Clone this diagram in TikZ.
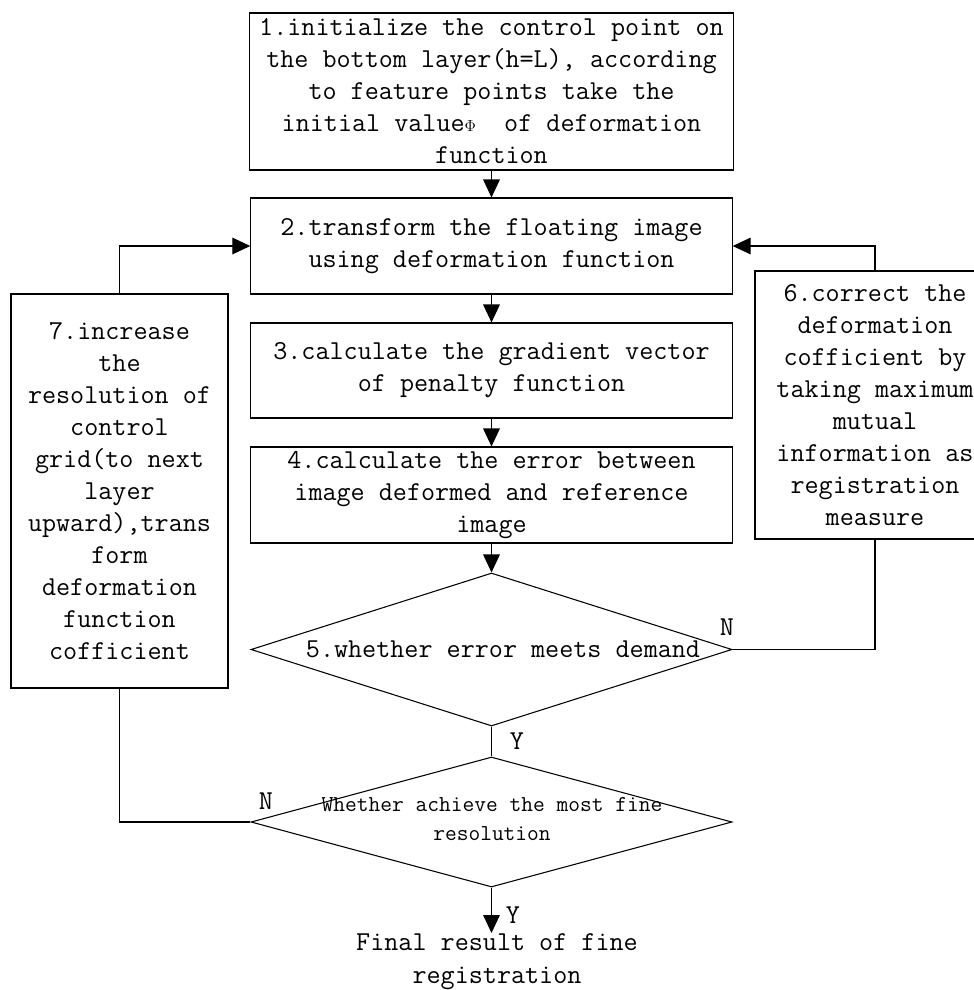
\documentclass[tikz,border=0pt]{standalone}
\usepackage{fontspec}
\usetikzlibrary{arrows.meta,shapes.geometric}
\newcommand\flowmono{\ttfamily}

\begin{document}
\begin{tikzpicture}[x=0.75pt, y=-0.75pt, line width=0.8pt,
		stepbox/.style={draw, inner sep=0pt, align=center, font=\flowmono\fontsize{20.5}{24}\selectfont},
		decision/.style={draw, diamond, inner sep=0pt},
		flow/.style={-{Triangle[length=13.5pt, width=12.5pt]}},
		tag/.style={inner sep=0pt, font=\flowmono\fontsize{20.5}{24}\selectfont}]
		\useasboundingbox (0,0) rectangle (974,990);
		
		%main column
		\node[stepbox, minimum width=363pt, minimum height=117.75pt] (init) at (491.5,91.5)
			{1.initialize the control point on\\the bottom layer(h=L), according\\to feature points take the\\initial value{\fontsize{13}{13}\selectfont$\Phi$}~~of deformation\\function};
		\node[stepbox, minimum width=361pt, minimum height=72pt] (warp) at (491.5,246)
			{2.transform the floating image\\using deformation function};
		\node[stepbox, minimum width=361pt, minimum height=71.25pt] (grad) at (491.5,370.5)
			{3.calculate the gradient vector\\of penalty function};
		\node[stepbox, minimum width=361pt, minimum height=72pt] (err) at (491.5,495)
			{4.calculate the error between\\image deformed and reference\\image};
		
		%decisions
		\node[decision, minimum width=360.75pt, minimum height=114.75pt] (meet) at (491.5,649.5) {};
		\node[tag] at (503,649.5) {5.whether error meets demand};
		\node[decision, minimum width=360.75pt, minimum height=97.5pt] (fine) at (491.5,822) {};
		\node[inner sep=0pt, align=center, font=\flowmono\fontsize{17.1}{21.4}\selectfont] at (492,819)
			{Whether achieve the most fine\\resolution};
		\node[tag, anchor=north, align=center, font=\flowmono\fontsize{20.5}{24.75}\selectfont] (result) at (497,933)
			{Final result of fine\\registration};
		
		%side boxes
		\node[stepbox, minimum width=180pt, minimum height=201pt] (corr) at (875,405)
			{6.correct the\\deformation\\cofficient by\\taking maximum\\mutual\\information as\\registration\\measure};
		\node[stepbox, minimum width=162.75pt, minimum height=295.5pt] (refine) at (119.5,491)
			{7.increase\\the\\resolution of\\control\\grid(to next\\layer\\upward),trans\\form\\deformation\\function\\cofficient};
		
		%connectors
		\draw[flow] (init) -- (warp);
		\draw[flow] (warp) -- (grad);
		\draw[flow] (grad) -- (err);
		\draw[flow] (err) -- (meet);
		\draw (meet) -- (fine);
		\draw[flow] (fine.south) -- (fine.south |- result.north);
		\draw (meet.east) -| (corr.south);
		\draw[flow] (corr.north) |- (warp.east);
		\draw (fine.west) -| (refine.south);
		\draw[flow] (refine.north) |- (warp.west);
		
		%branch labels
		\node[tag] (meetno) at (727,627) {N};
		\node[tag] (meetyes) at (517,741) {Y};
		\node[tag] (fineno) at (266,801) {N};
		\node[tag] (fineyes) at (513,915) {Y};
\end{tikzpicture}
\end{document}
